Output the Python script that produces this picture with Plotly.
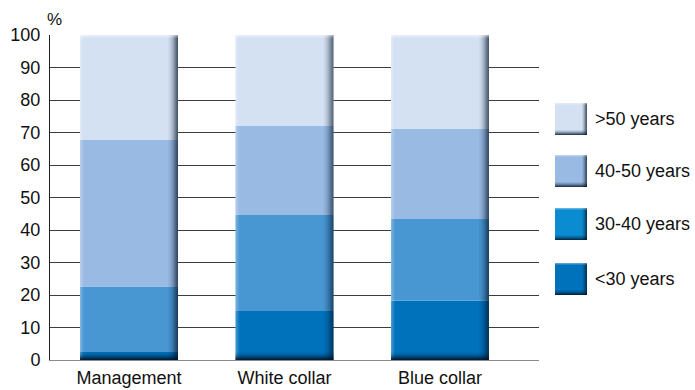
import numpy as np
import plotly.graph_objects as go

# ---- data ----
categories = ["Management", "White collar", "Blue collar"]
groups = ["<30 years", "30-40 years", "40-50 years", ">50 years"]
under30 = [2.5, 15.1, 18.2]
age30_40 = [20.1, 29.5, 25.2]
age40_50 = [45.1, 27.4, 27.7]
over50 = [32.3, 28.0, 28.9]
y_ticks = [0, 10, 20, 30, 40, 50, 60, 70, 80, 90, 100]

bar_colors = ["#0072BC", "#4896D2", "#98BAE3", "#D3E1F3"]
legend_colors = ["#0072BC", "#0B8BD0", "#98BAE3", "#D3E1F3"]

FONT = "Liberation Sans, Arial, sans-serif"
FS = 18
W, H = 695, 390
ML, MR, MT, MB = 50, 156, 35, 30

series = [under30, age30_40, age40_50, over50]
xs = np.arange(len(categories))
X_RANGE = [-0.508, 2.637]
Y_RANGE = [0, 100]
BAR_W = 0.63

px_x = (X_RANGE[1] - X_RANGE[0]) / (W - ML - MR)
px_y = (Y_RANGE[1] - Y_RANGE[0]) / (H - MT - MB)

fig = go.Figure()

base = np.zeros(len(categories))
for name, vals, col in zip(groups, series, bar_colors):
    v = np.array(vals, dtype=float)
    fig.add_trace(go.Bar(x=xs, y=v, base=base.copy(), name=name, width=BAR_W,
                         marker=dict(color=col, line=dict(width=0)),
                         showlegend=False, hoverinfo="name+y"))
    base = base + v
totals = base

# 3D shading: right edge darkening
right_alpha = [0.03, 0.06, 0.1, 0.15, 0.22, 0.3, 0.4, 0.5, 0.6, 0.7]
for i, a in enumerate(right_alpha):
    off = -BAR_W / 2 + BAR_W - (len(right_alpha) - i) * px_x
    fig.add_trace(go.Bar(x=xs, y=totals, base=np.zeros(len(xs)), width=px_x, offset=off,
                         marker=dict(color=f"rgba(5,20,40,{a})", line=dict(width=0)),
                         showlegend=False, hoverinfo="skip"))
# left edge highlight
for i, a in enumerate([0.3, 0.2, 0.12, 0.06]):
    off = -BAR_W / 2 + i * px_x
    fig.add_trace(go.Bar(x=xs, y=totals, base=np.zeros(len(xs)), width=px_x, offset=off,
                         marker=dict(color=f"rgba(255,255,255,{a})", line=dict(width=0)),
                         showlegend=False, hoverinfo="skip"))
# bottom darkening
for i, a in enumerate([0.85, 0.7, 0.55, 0.4, 0.28, 0.18, 0.1, 0.05]):
    fig.add_trace(go.Bar(x=xs, y=np.full(len(xs), px_y), base=np.full(len(xs), i * px_y),
                         width=BAR_W,
                         marker=dict(color=f"rgba(0,15,35,{a})", line=dict(width=0)),
                         showlegend=False, hoverinfo="skip"))
# top highlight
for i, a in enumerate([0.45, 0.3, 0.15]):
    fig.add_trace(go.Bar(x=xs, y=np.full(len(xs), px_y), base=totals - (i + 1) * px_y,
                         width=BAR_W,
                         marker=dict(color=f"rgba(255,255,255,{a})", line=dict(width=0)),
                         showlegend=False, hoverinfo="skip"))

# ---- manual legend (big squares) ----
def px2paper_x(p):
    return (p - ML) / (W - ML - MR)

def px2paper_y(p):
    return (H - MB - p) / (H - MT - MB)

shapes = []
annotations = []
leg_tops = [103, 155, 208, 263]
leg_order = [3, 2, 1, 0]
SQ = 32
LX = 555
for top, gi in zip(leg_tops, leg_order):
    shapes.append(dict(type="rect", xref="paper", yref="paper", layer="above",
                       x0=px2paper_x(LX), x1=px2paper_x(LX + SQ),
                       y0=px2paper_y(top + SQ), y1=px2paper_y(top),
                       fillcolor=legend_colors[gi], line=dict(width=0)))
    for k, a in enumerate([0.08, 0.18, 0.32, 0.5, 0.65]):
        xr = LX + SQ - 5 + k
        shapes.append(dict(type="rect", xref="paper", yref="paper", layer="above",
                           x0=px2paper_x(xr), x1=px2paper_x(xr + 1),
                           y0=px2paper_y(top + SQ), y1=px2paper_y(top),
                           fillcolor=f"rgba(5,20,40,{a})", line=dict(width=0)))
    for k, a in enumerate([0.08, 0.2, 0.35, 0.55, 0.75]):
        yr = top + SQ - 5 + k
        shapes.append(dict(type="rect", xref="paper", yref="paper", layer="above",
                           x0=px2paper_x(LX), x1=px2paper_x(LX + SQ),
                           y0=px2paper_y(yr + 1), y1=px2paper_y(yr),
                           fillcolor=f"rgba(0,15,35,{a})", line=dict(width=0)))
    for k, a in enumerate([0.35, 0.15]):
        shapes.append(dict(type="rect", xref="paper", yref="paper", layer="above",
                           x0=px2paper_x(LX), x1=px2paper_x(LX + SQ),
                           y0=px2paper_y(top + k + 1), y1=px2paper_y(top + k),
                           fillcolor=f"rgba(255,255,255,{a})", line=dict(width=0)))
    annotations.append(dict(text=groups[gi], xref="paper", yref="paper",
                            x=px2paper_x(593), y=px2paper_y(top + SQ / 2),
                            xanchor="left", yanchor="middle", showarrow=False,
                            font=dict(family=FONT, size=FS, color="#111")))

annotations.append(dict(text="%", xref="paper", yref="paper",
                        x=px2paper_x(54), y=px2paper_y(19),
                        xanchor="center", yanchor="middle", showarrow=False,
                        font=dict(family=FONT, size=17, color="#111")))

fig.update_layout(
    width=W, height=H,
    margin=dict(l=ML, r=MR, t=MT, b=MB, autoexpand=False),
    barmode="overlay",
    plot_bgcolor="white", paper_bgcolor="white",
    showlegend=False,
    shapes=shapes, annotations=annotations,
    font=dict(family=FONT, size=FS, color="#111"),
    xaxis=dict(range=X_RANGE, tickvals=list(xs), ticktext=categories,
               showgrid=False, zeroline=False, showline=True, linecolor="#8a8a8a",
               linewidth=1, ticks="outside", ticklen=1, tickcolor="rgba(0,0,0,0)",
               tickfont=dict(family=FONT, size=FS, color="#111"), fixedrange=True),
    yaxis=dict(range=Y_RANGE, tickvals=y_ticks, showgrid=True, gridcolor="#3c3c3c",
               gridwidth=1, zeroline=False, showline=True, linecolor="#222",
               linewidth=1, ticks="outside", ticklen=5, tickcolor="rgba(0,0,0,0)",
               tickfont=dict(family=FONT, size=FS, color="#111"), fixedrange=True),
)

fig.write_html("out.html")
